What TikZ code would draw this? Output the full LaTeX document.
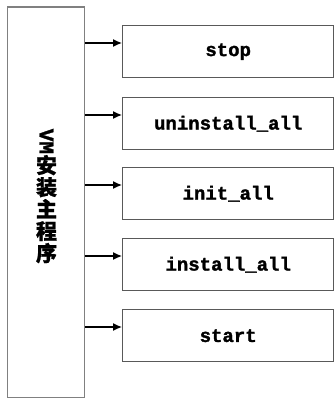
\documentclass[tikz,border=0pt]{standalone}
\usepackage{fontspec}
\setmonofont{Liberation Mono}[BoldFeatures={FakeBold=1.5}]
\newfontfamily\cjk{Noto Sans CJK SC}[BoldFeatures={FakeBold=1}]
\usetikzlibrary{arrows.meta}
\begin{document}
\begin{tikzpicture}[x=1pt,y=-1pt,
  box/.style={draw=black!65, line width=1.4pt, fill=white, anchor=north west,
    minimum width=211pt, minimum height=52pt, inner sep=0pt,
    font=\ttfamily\bfseries\fontsize{19}{21}\selectfont},
  mainbox/.style={draw=black!50, line width=1.4pt, fill=white, anchor=north west,
    minimum width=77pt, minimum height=390pt, inner sep=0pt},
  arr/.style={-{Latex[length=9pt,width=8pt]}, line width=1.3pt, black}]
\useasboundingbox (0,0) rectangle (334,398);
\node[mainbox] (main) at (7,6.5) {};
\node[align=center, inner sep=0pt, font=\cjk\bfseries\fontsize{21}{22}\selectfont] (lbl) at (46.5,196)
  {\rotatebox{-90}{\ttfamily\bfseries VM}\\安\\装\\主\\程\\序};
\node[box] (s1) at (122,25) {stop};
\node[box] (s2) at (122,97) {uninstall\_all};
\node[box] (s3) at (122,167) {init\_all};
\node[box] (s4) at (122,238) {install\_all};
\node[box] (s5) at (122,309) {start};
\foreach \i in {1,...,5}{
  \path (s\i.north west) ++(0,18) coordinate (t\i);
  \draw[arr] (t\i -| main.east) -- (t\i);
}
\end{tikzpicture}
\end{document}
